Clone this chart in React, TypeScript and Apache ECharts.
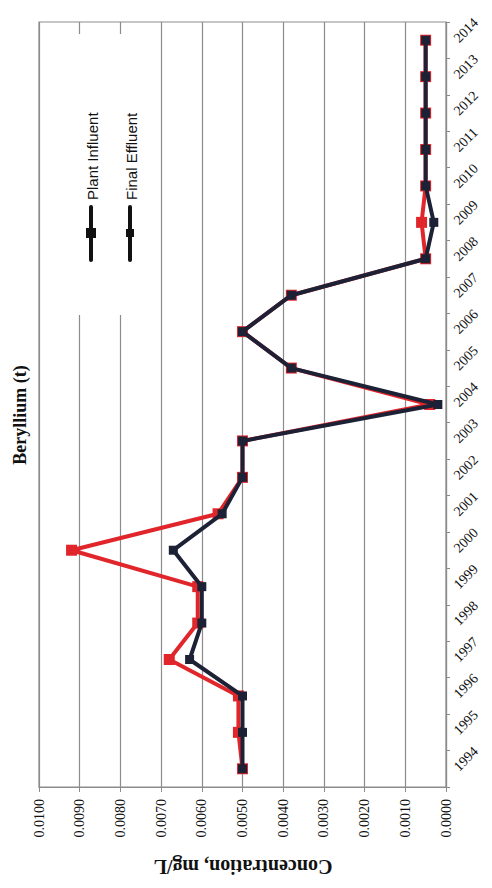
import React, { useEffect, useRef } from "react";
import * as echarts from "echarts";

const years = ["1994","1995","1996","1997","1998","1999","2000","2001","2002","2003","2004","2005","2006","2007","2008","2009","2010","2011","2012","2013","2014"];
const plantInfluent = [0.0050,0.0051,0.0051,0.0068,0.0061,0.0061,0.0092,0.0056,0.0050,0.0050,0.0004,0.0038,0.0050,0.0038,0.0005,0.0006,0.0005,0.0005,0.0005,0.0005,0.0005];
const finalEffluent = [0.0050,0.0050,0.0050,0.0063,0.0060,0.0060,0.0067,0.0055,0.0050,0.0050,0.0002,0.0038,0.0050,0.0038,0.0005,0.0003,0.0005,0.0005,0.0005,0.0005,0.0005];
const seriesNames = ["Plant Influent", "Final Effluent"];
const chartTitle = "Beryllium (t)";
const valueAxisTitle = "Concentration, mg/L";

const SERIF = "'Liberation Serif', 'Times New Roman', serif";
const SANS = "'Liberation Sans', Arial, sans-serif";

export default function App() {
  const ref = useRef<HTMLDivElement>(null);
  useEffect(() => {
    if (!ref.current) return;
    const chart = echarts.init(ref.current, null, { renderer: "svg" });
    const legendX = [92, 131];
    const option: any = {
      animation: false,
      backgroundColor: "#ffffff",
      grid: {
        left: 39, right: 46, top: 22, bottom: 101,
        show: true, borderColor: "#8c8c8c", borderWidth: 1.2, backgroundColor: "transparent",
      },
      xAxis: {
        type: "value",
        inverse: true,
        min: 0, max: 0.01, interval: 0.001,
        axisLine: { show: true, lineStyle: { color: "#8c8c8c", width: 1.2 } },
        axisTick: { show: true, length: 5, lineStyle: { color: "#8c8c8c" } },
        splitLine: { show: true, lineStyle: { color: "#8c8c8c", width: 1.2 } },
        axisLabel: {
          rotate: 90, margin: 12, color: "#111", fontFamily: SERIF, fontSize: 14,
          formatter: (v: number) => v.toFixed(4),
        },
      },
      yAxis: {
        type: "category",
        position: "right",
        data: years,
        boundaryGap: true,
        axisLine: { show: true, lineStyle: { color: "#8c8c8c", width: 1.2 } },
        axisTick: { show: true, length: 4, lineStyle: { color: "#8c8c8c" } },
        splitLine: { show: false },
        axisLabel: { rotate: 45, margin: 10, color: "#111", fontFamily: SERIF, fontSize: 14 },
      },
      series: [
        {
          name: seriesNames[0], type: "line", data: plantInfluent,
          symbol: "rect", symbolSize: 11, z: 2,
          lineStyle: { color: "#e0262b", width: 4 },
          itemStyle: { color: "#e0262b" },
        },
        {
          name: seriesNames[1], type: "line", data: finalEffluent,
          symbol: "rect", symbolSize: 9, z: 3,
          lineStyle: { color: "#1c2135", width: 4 },
          itemStyle: { color: "#1c2135" },
        },
      ],
      graphic: [
        { type: "rect", z: 100, shape: { x: 41, y: 34, width: 110, height: 281 }, style: { fill: "#ffffff" } },
        ...seriesNames.flatMap((name, i) => [
          {
            type: "text", z: 101, x: legendX[i], y: 200, rotation: Math.PI / 2,
            style: { text: name, fill: "#111", font: `15px ${SANS}`, textAlign: "left", textVerticalAlign: "middle" },
          },
          {
            type: "line", z: 101,
            shape: { x1: legendX[i] - 1, y1: 207, x2: legendX[i] - 1, y2: 260 },
            style: { stroke: "#111", lineWidth: 4, lineCap: "round" },
          },
          {
            type: "rect", z: 102,
            shape: i === 0 ? { x: legendX[i] - 6, y: 228, width: 10, height: 10 } : { x: legendX[i] - 5, y: 229, width: 8, height: 8 },
            style: { fill: "#111" },
          },
        ]),
        {
          type: "text", z: 101, x: 20, y: 415, rotation: Math.PI / 2,
          style: { text: chartTitle, fill: "#111", font: `bold 18px ${SERIF}`, textAlign: "center", textVerticalAlign: "middle" },
        },
        {
          type: "text", z: 101, x: 243, y: 867, rotation: Math.PI,
          style: { text: valueAxisTitle, fill: "#111", font: `bold 20px ${SERIF}`, textAlign: "center", textVerticalAlign: "middle" },
        },
      ],
    };
    chart.setOption(option);
    return () => chart.dispose();
  }, []);
  return <div ref={ref} style={{ position: "fixed", left: 0, top: 0, width: 492, height: 888 }} />;
}
